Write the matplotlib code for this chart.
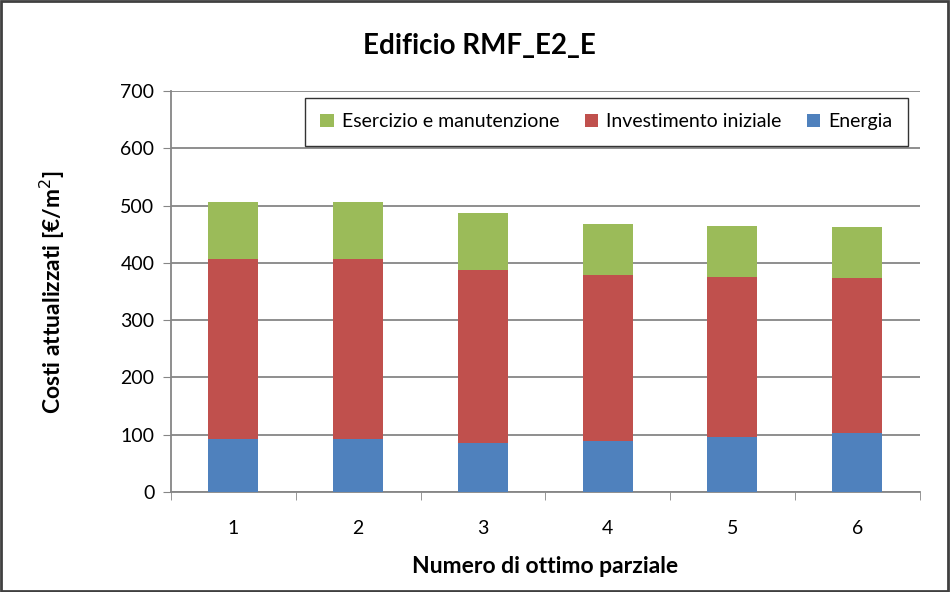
import numpy as np
import matplotlib
matplotlib.use('Agg')
import matplotlib.pyplot as plt
from matplotlib.patches import Rectangle

plt.rcParams['font.family'] = ['Lato', 'DejaVu Sans']

categorie = ['1', '2', '3', '4', '5', '6']
energia = [93, 93, 85, 89, 96, 103]
investimento = [314, 314, 303, 290, 280, 271]
esercizio = [100, 100, 100, 89, 89, 89]

col_energia = '#4F81BD'
col_invest = '#C0504D'
col_eserc = '#9BBB59'
grigio = '#868686'

fig = plt.figure(figsize=(9.5, 5.92), dpi=100)
ax = fig.add_axes([0.18, 0.169, 0.788, 0.677])

x = np.arange(1, len(categorie) + 1)
b1 = ax.bar(x, energia, width=0.4, color=col_energia, label='Energia', zorder=3)
base2 = np.array(energia)
b2 = ax.bar(x, investimento, width=0.4, bottom=base2, color=col_invest,
            label='Investimento iniziale', zorder=3)
base3 = base2 + np.array(investimento)
b3 = ax.bar(x, esercizio, width=0.4, bottom=base3, color=col_eserc,
            label='Esercizio e manutenzione', zorder=3)

ax.set_xlim(0.5, 6.5)
ax.set_ylim(0, 700)
ax.set_yticks(np.arange(0, 701, 100))
ax.set_xticks(x)
ax.set_xticklabels(categorie)
ax.set_xticks(np.arange(0.5, 6.6, 1), minor=True)
ax.tick_params(axis='x', which='major', length=0, pad=20, labelsize=14)
ax.tick_params(axis='x', which='minor', length=6, color=grigio, direction='out')
ax.tick_params(axis='y', length=6, color=grigio, direction='out', labelsize=14, pad=6)

ax.grid(axis='y', color=grigio, linewidth=1.3, zorder=0)
for s in ['top', 'right']:
    ax.spines[s].set_visible(False)
for s in ['left', 'bottom']:
    ax.spines[s].set_color(grigio)
    ax.spines[s].set_linewidth(1.3)

fig.text(0.505, 0.922, 'Edificio RMF_E2_E', fontsize=20, fontweight='bold',
         ha='center', va='center')
ax.set_xlabel('Numero di ottimo parziale', fontsize=16.5, fontweight='bold', labelpad=14)
ax.set_ylabel('Costi attualizzati [€/m$^2$]', fontsize=16.5, fontweight='bold', labelpad=38)

leg = ax.legend(handles=[b3, b2, b1], loc='upper right', ncol=3, fontsize=14,
                frameon=True, fancybox=False, edgecolor='black',
                bbox_to_anchor=(0.997, 1.008), handlelength=0.7, handleheight=0.7,
                columnspacing=1.3, handletextpad=0.4, borderpad=0.8)
leg.get_frame().set_linewidth(1.0)

fig.patches.append(Rectangle((0.001, 0.002), 0.997, 0.996, transform=fig.transFigure,
                             fill=False, edgecolor='#404040', linewidth=2))

fig.savefig('out.png', dpi=100)
